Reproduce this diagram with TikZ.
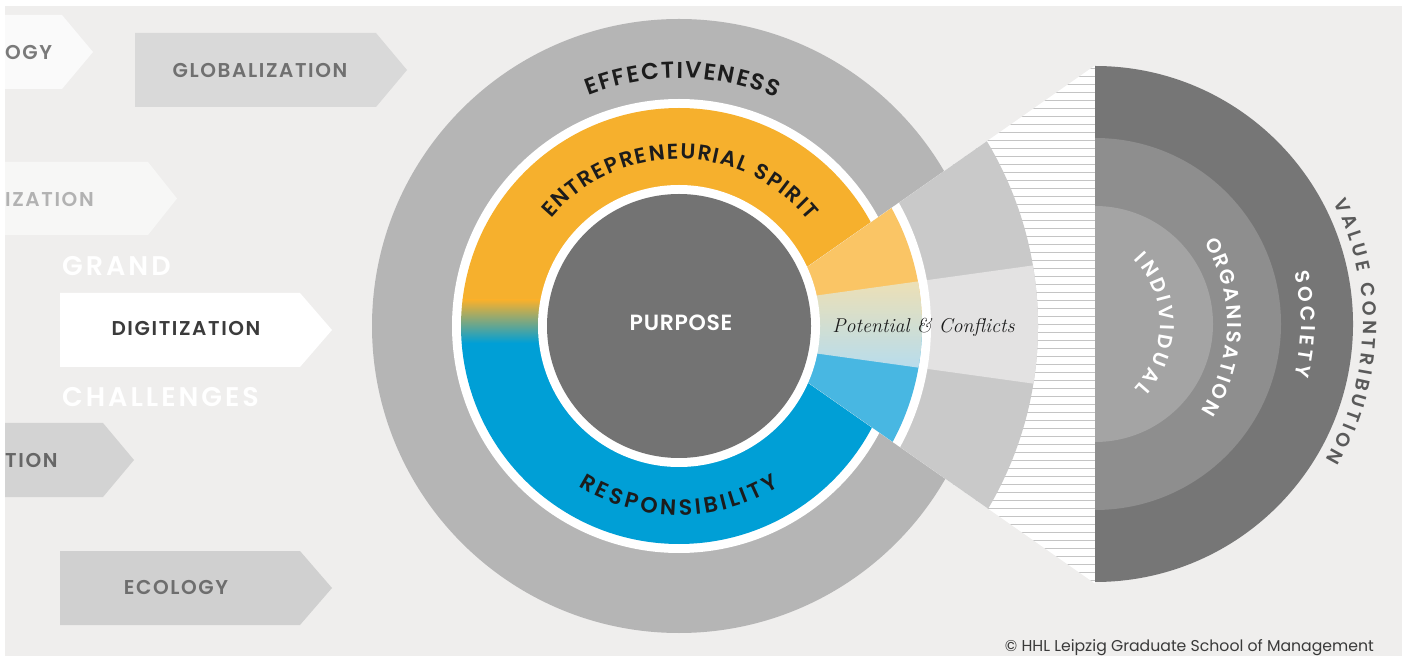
\documentclass[tikz,border=0pt]{standalone}
\usepackage{fontspec}
\usetikzlibrary{calc,decorations.text}
\newfontfamily\fLabel{Poppins}[UprightFont={* SemiBold}, LetterSpace=8]
\newfontfamily\fBig{Poppins}[UprightFont={* SemiBold}, LetterSpace=11]
\newfontfamily\fPurp{Poppins}[UprightFont={* SemiBold}, LetterSpace=3]
\newfontfamily\fCurve{Poppins}[UprightFont={* SemiBold}]
\newfontfamily\fPlain{Poppins}
\definecolor{bg}{HTML}{EFEEED}
\definecolor{effgray}{HTML}{B5B5B5}
\definecolor{orangeC}{HTML}{F6B02D}
\definecolor{blueC}{HTML}{009FD6}
\definecolor{lorange}{HTML}{FAC565}
\definecolor{lblue}{HTML}{48B7E2}
\definecolor{pyel}{HTML}{EEE0B4}
\definecolor{pmid}{HTML}{DCE4D8}
\definecolor{pblue}{HTML}{B6DCEE}
\definecolor{fangray}{HTML}{C9C9C9}
\definecolor{fanmid}{HTML}{E3E2E2}
\definecolor{hatchc}{HTML}{C4C4C4}
\definecolor{purp}{HTML}{737373}
\definecolor{soc}{HTML}{767676}
\definecolor{org}{HTML}{8E8E8E}
\definecolor{ind}{HTML}{A4A4A4}
\definecolor{txtdark}{HTML}{1C1C1C}
\definecolor{valc}{HTML}{5A5A5A}
\definecolor{copyc}{HTML}{3A3A3A}
\definecolor{arrwhite}{HTML}{FAFAFA}
\definecolor{arrlight}{HTML}{F7F7F6}
\definecolor{arrglob}{HTML}{D9D9D9}
\definecolor{arrtion}{HTML}{D3D3D3}
\definecolor{arreco}{HTML}{D0D0D0}
\tikzset{
  lbl/.style={inner sep=0pt, font=\fLabel\fontsize{20}{20}\selectfont},
  biglbl/.style={inner sep=0pt, font=\fBig\fontsize{27}{27}\selectfont, text=white},
}
\begin{document}
\begin{tikzpicture}[x=1pt,y=1pt]
\useasboundingbox (0,0) rectangle (1415,656);
\fill[white] (0,0) rectangle (1415,656);
\fill[bg] (5,0) rectangle (1402,650);

% ---- left arrows ----
\fill[arrwhite] (5,641) -- (62,641) -- (93,604) -- (62,567) -- (5,567) -- cycle;
\node[lbl, text=black!52, anchor=west] (ogy) at (5,604) {OGY};
\fill[arrglob] (135,623) -- (376,623) -- (407,586) -- (376,549) -- (135,549) -- cycle;
\node[lbl, text=black!56] (glob) at (260,586) {GLOBALIZATION};
\fill[arrlight] (5,494) -- (148,494) -- (177,457.5) -- (148,421) -- (5,421) -- cycle;
\node[lbl, text=black!30, anchor=west] (iza) at (5,457) {IZATION};
\node[biglbl, anchor=west] (grand) at (62,390) {GRAND};
\fill[white] (60,363) -- (300,363) -- (332,326) -- (300,289) -- (60,289) -- cycle;
\node[lbl, text=black!77] (digi) at (186,328) {DIGITIZATION};
\node[biglbl, anchor=west] (chall) at (62,259) {CHALLENGES};
\fill[arrtion] (5,233) -- (103,233) -- (134,196) -- (103,159) -- (5,159) -- cycle;
\node[lbl, text=black!60, anchor=west] (tion) at (5,196) {TION};
\fill[arreco] (60,105) -- (300,105) -- (332,68) -- (300,31) -- (60,31) -- cycle;
\node[lbl, text=black!57] (eco) at (176,69) {ECOLOGY};

% ---- main circle ----
\coordinate (C) at (679,330);
\fill[effgray] (C) circle[radius=307pt];
\fill[white] (C) circle[radius=227pt];
\begin{scope}
  \clip (C) circle[radius=218pt];
  \fill[orangeC] (450,356) rectangle (910,560);
  \fill[blueC] (450,100) rectangle (910,313);
  \shade[top color=orangeC, bottom color=blueC] (450,313) rectangle (910,356);
\end{scope}

% ---- fan ----
\coordinate (F0) at (725,331.5);
\coordinate (F1) at (1095,590.5);
\coordinate (F2) at (1095,72.5);
\coordinate (M0) at (608,331.5);
\coordinate (M1) at (1200,413.8);
\coordinate (M2) at (1200,249.2);
\begin{scope}
  \clip (F0) -- (F1) -- (F2) -- cycle;
  \fill[white] (700,0) rectangle (1100,656);
  \foreach \k in {-34,...,34}
    \draw[hatchc, line width=1.6pt] (860,{331.5+8*\k}) -- (1100,{331.5+8*\k});
  \fill[fangray] (C) circle[radius=359pt];
  \begin{scope}
    \clip (C) circle[radius=359pt];
    \fill[fanmid] (M0) -- (M1) -- (M2) -- cycle;
  \end{scope}
  \fill[white] (C) circle[radius=252pt];
  \begin{scope}
    \clip (C) circle[radius=243pt];
    \fill[lorange] (600,331.5) rectangle (950,656);
    \fill[lblue] (600,0) rectangle (950,331.5);
    \begin{scope}
      \clip (M0) -- (M1) -- (M2) -- cycle;
      \shade[top color=pyel, middle color=pmid, bottom color=pblue] (780,286) rectangle (950,377);
    \end{scope}
  \end{scope}
\end{scope}

\fill[white] (C) circle[radius=141pt];
\fill[purp] (C) circle[radius=132pt];

% ---- semicircles ----
\coordinate (S) at (1095,332);
\fill[soc] (1095,590) arc[start angle=90, end angle=-90, radius=258pt] -- cycle;
\fill[org] (1095,518) arc[start angle=90, end angle=-90, radius=186pt] -- cycle;
\fill[ind] (1095,450) arc[start angle=90, end angle=-90, radius=118pt] -- cycle;

% ---- texts ----
\node[inner sep=0pt, font=\fPurp\fontsize{22}{22}\selectfont, text=white] (purpose) at (681,333) {PURPOSE};
\node[inner sep=0pt, anchor=base, font=\rmfamily\itshape\fontsize{20}{20}\selectfont, text=txtdark] (pc) at (923.5,323) {Potential \& Conflicts};

\path[decorate, decoration={text along path, text align={fit to path},
  text={|\fCurve\fontsize{23}{23}\selectfont\color{txtdark}|EFFECTIVENESS}}]
  ($(C)+(111.5:248pt)$) arc[start angle=111.5, end angle=66.8, radius=248pt];
\path[decorate, decoration={text along path, text align={fit to path},
  text={|\fCurve\fontsize{21.5}{21.5}\selectfont\color{txtdark}|ENTREPRENEURIAL SPIRIT}}]
  ($(C)+(140:167pt)$) arc[start angle=140, end angle=39, radius=167pt];
\path[decorate, decoration={text along path, text align={fit to path},
  text={|\fCurve\fontsize{22}{22}\selectfont\color{txtdark}|RESPONSIBILITY}}]
  ($(C)+(238:189pt)$) arc[start angle=238, end angle=302, radius=189pt];

\coordinate (SI) at (1067,332);
\path[decorate, decoration={text along path, text align={fit to path},
  text={|\fCurve\fontsize{20}{20}\selectfont\color{white}|INDIVIDUAL}}]
  ($(SI)+(44:93pt)$) arc[start angle=44, end angle=-44, radius=93pt];
\coordinate (SO) at (1068,332);
\path[decorate, decoration={text along path, text align={fit to path},
  text={|\fCurve\fontsize{20}{20}\selectfont\color{white}|ORGANISATION}}]
  ($(SO)+(31:159pt)$) arc[start angle=31, end angle=-33, radius=159pt];
\path[decorate, decoration={text along path, text align={fit to path},
  text={|\fCurve\fontsize{20}{20}\selectfont\color{white}|SOCIETY}}]
  ($(S)+(14.6:206pt)$) arc[start angle=14.6, end angle=-14.6, radius=206pt];
\path[decorate, decoration={text along path, text align={fit to path},
  text={|\fCurve\fontsize{19}{19}\selectfont\color{valc}|VALUE CONTRIBUTION}}]
  ($(S)+(27:268pt)$) arc[start angle=27, end angle=-30.4, radius=268pt];

\node[inner sep=0pt, anchor=base east, font=\fPlain\fontsize{15.7}{15.7}\selectfont, text=copyc] (copy) at (1374,4.5) {© HHL Leipzig Graduate School of Management};
\end{tikzpicture}
\end{document}
